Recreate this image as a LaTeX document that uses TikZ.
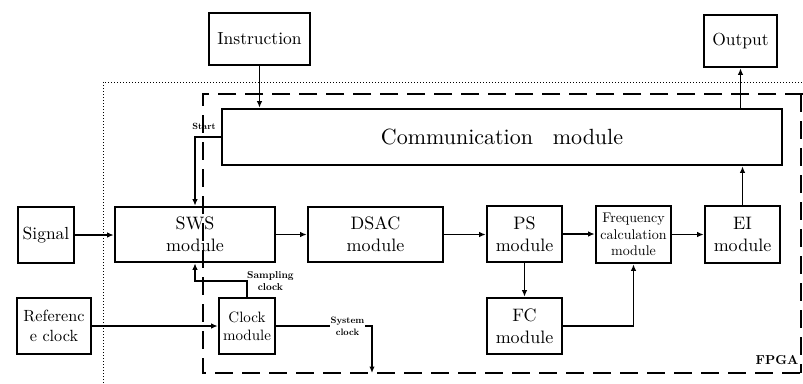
\documentclass[tikz,border=0pt]{standalone}
\usepackage{fontspec}
\setmainfont{lmroman10-regular.otf}[BoldFont=lmroman10-bold.otf]
\usetikzlibrary{arrows.meta,calc}
\begin{document}
\begin{tikzpicture}[x=1pt,y=-1pt,
  blk/.style={draw,line width=2.6pt,inner sep=0pt,align=center,font=\fontsize{17.5}{21.5}\selectfont},
  arr/.style={line width=1.3pt,-{Latex[length=6.5pt,width=5.5pt]}},
  lbl/.style={inner sep=1pt,align=center,font=\fontsize{9.5}{11.5}\selectfont\bfseries}]
\useasboundingbox (0,0) rectangle (803,383);
% FPGA frames
\draw[dotted,line width=1pt] (103,383) -- (103,82) -- (803,82);
\draw[line width=1.5pt,dash pattern=on 18pt off 9pt] (803,94) -- (203,94) -- (203,373) -- (803,373);
\draw[line width=1.5pt,dash pattern=on 18pt off 9pt] (801,94) -- (801,373);
% blocks
\node[blk,minimum width=101,minimum height=52] (instr) at (259.5,39) {Instruction};
\node[blk,minimum width=73,minimum height=52] (output) at (740.5,41) {Output};
\node[blk,minimum width=560,minimum height=56,font=\fontsize{22}{26}\selectfont] (comm) at (502,137) {Communication\hspace{0.9em}module};
\node[blk,minimum width=56,minimum height=56] (signal) at (46,235) {Signal};
\node[blk,minimum width=160,minimum height=55,font=\fontsize{18}{22}\selectfont] (sws) at (195,234.5) {SWS\\module};
\node[blk,minimum width=135,minimum height=55,font=\fontsize{18}{22}\selectfont] (dsac) at (375.5,234.5) {DSAC\\module};
\node[blk,minimum width=75,minimum height=56,font=\fontsize{18}{22}\selectfont] (ps) at (524.5,234) {PS\\module};
\node[blk,minimum width=75,minimum height=57,font=\fontsize{14}{16.5}\selectfont] (freq) at (633.5,234.5) {Frequency\\calculation\\module};
\node[blk,minimum width=75,minimum height=57,font=\fontsize{18}{22}\selectfont] (ei) at (742.5,234.5) {EI\\module};
\node[blk,minimum width=75,minimum height=56,font=\fontsize{18}{22}\selectfont] (fc) at (524.5,326) {FC\\module};
\node[blk,minimum width=74,minimum height=56,font=\fontsize{16.2}{20}\selectfont] (ref) at (54,326) {Referenc\\e clock};
\node[blk,minimum width=56,minimum height=56,font=\fontsize{15}{18}\selectfont] (clk) at (247,326) {Clock\\module};
% connectors
\draw[arr] (instr.south) -- (instr.south |- comm.north);
\draw[arr] (comm.north -| output) -- (output.south);
\draw[arr] (ei.north) -- (ei.north |- comm.south);
\draw[arr] (comm.west) -| (sws.north);
\draw[arr] (signal.east) -- (signal.east -| sws.west);
\draw[arr] (sws.east) -- (sws.east -| dsac.west);
\draw[arr] (dsac.east) -- (dsac.east -| ps.west);
\draw[arr] (ps.east) -- (ps.east -| freq.west);
\draw[arr] (freq.east) -- (freq.east -| ei.west);
\draw[arr] (ps.south) -- (fc.north);
\draw[arr] (fc.east) -| (freq.south);
\draw[arr] (ref.east) -- (clk.west);
\coordinate (sbend) at (195,281);
\draw[arr] (clk.north) |- (sbend) -- (sws.south);
\coordinate (sysend) at (372,373);
\draw[arr] (clk.east) -| (sysend);
% labels
\node[lbl,font=\fontsize{9}{11}\selectfont\bfseries] (startl) at (204,126) {Start};
\node[lbl,anchor=west,font=\fontsize{10}{12.5}\selectfont\bfseries] (sampl) at (246,281) {Sampling\\clock};
\node[lbl,fill=white,font=\fontsize{9.3}{12}\selectfont\bfseries] (sysl) at (347.5,326) {System\\clock};
\node[lbl,font=\fontsize{13}{15}\selectfont\bfseries] (fpga) at (777,360) {FPGA};
\end{tikzpicture}
\end{document}
